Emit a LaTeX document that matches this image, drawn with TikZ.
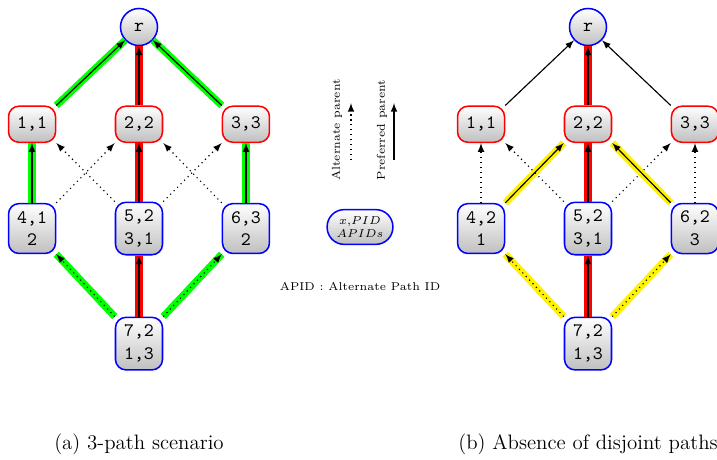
\documentclass[tikz,border=0pt]{standalone}
\usetikzlibrary{arrows, positioning}

\tikzset{
	treenode/.style={draw, thick, rounded corners=5.5pt, top color=white, bottom color=black!25, font=\ttfamily, align=center, inner xsep=4.5pt, inner ysep=4pt},
	rootnode/.style={circle, draw=blue, thick, top color=white, bottom color=black!25, font=\ttfamily, minimum size=19.5pt, inner sep=0pt},
	levelone/.style={treenode, draw=red, minimum height=19pt},
	leveltwo/.style={treenode, draw=blue},
	keynode/.style={draw=blue, thick, rounded corners=9pt, top color=white, bottom color=black!25, font=\keyfont, align=center, inner xsep=5pt, inner ysep=3.5pt},
	keytext/.style={font=\keyfont},
	caption/.style={font=\fontsize{11}{13.6}\selectfont},
	pref/.style={->, semithick},
	alt/.style={->, semithick, dotted},
	greenpath/.style={preaction={draw=green, line width=3.8pt, solid, -}},
	redpath/.style={preaction={draw=red, line width=3.8pt, solid, -}},
	yellowpath/.style={preaction={draw=yellow, line width=3.8pt, solid, -}}
}
\newcommand{\keyfont}{\fontsize{6}{7.2}\selectfont}

\begin{document}
\begin{tikzpicture}[x=0.01851cm, y=-0.01851cm, >=latex, on grid]
	\useasboundingbox (0,0) rectangle (717,459);

	% (a) 3-path scenario
	\node [rootnode]								(ra) at (139,27)			{r};
	\node [levelone]	(a22)	[below=1.80cm of ra]	{2,2};
	\node [levelone]	(a11)	[left=1.98cm of a22]	{1,1};
	\node [levelone]	(a33)	[right=1.98cm of a22]	{3,3};
	\node [leveltwo]	(a52)	[below=1.93cm of a22]	{5,2\\3,1};
	\node [leveltwo]	(a41)	[left=1.98cm of a52]	{4,1\\2};
	\node [leveltwo]	(a63)	[right=1.98cm of a52]	{6,3\\2};
	\node [leveltwo]	(a72)	[below=2.13cm of a52]	{7,2\\1,3};

	\draw[pref, greenpath] (a11.north east) -- (ra);
	\draw[pref, redpath] (a22) -- (ra);
	\draw[pref, greenpath] (a33.north west) -- (ra);
	\draw[pref, greenpath] (a41) -- (a11);
	\draw[pref, redpath] (a52) -- (a22);
	\draw[pref, greenpath] (a63) -- (a33);
	\draw[alt] (a41.north east) -- (a22.south west);
	\draw[alt] (a52.north west) -- (a11.south east);
	\draw[alt] (a52.north east) -- (a33.south west);
	\draw[alt] (a63.north west) -- (a22.south east);
	\draw[alt, greenpath] (a72.north west) -- (a41.south east);
	\draw[pref, redpath] (a72) -- (a52);
	\draw[alt, greenpath] (a72.north east) -- (a63.south west);

	\node [caption] (capa) at (139,444) {(a) 3-path scenario};

	% legend
	\node [keytext, rotate=90] (alttext) at (337,130) {Alternate parent};
	\node [keytext, rotate=90] (preftext) at (382,130) {Preferred parent};
	\coordinate (altlow) at (351,160);
	\coordinate (althigh) at (351,103);
	\coordinate (preflow) at (394,160);
	\coordinate (prefhigh) at (394,103);
	\draw[alt] (altlow) -- (althigh);
	\draw[pref] (preflow) -- (prefhigh);
	\node [keynode] (key) at (360,227) {$x$,$PID$\\$APIDs$};
	\node [keytext] (apid) at (360,286) {APID : Alternate Path ID};

	% (b) absence of disjoint paths
	\node [rootnode]								(rb) at (588,27)			{r};
	\node [levelone]	(b22)	[below=1.80cm of rb]	{2,2};
	\node [levelone]	(b11)	[left=1.98cm of b22]	{1,1};
	\node [levelone]	(b33)	[right=1.98cm of b22]	{3,3};
	\node [leveltwo]	(b52)	[below=1.93cm of b22]	{5,2\\3,1};
	\node [leveltwo]	(b42)	[left=1.98cm of b52]	{4,2\\1};
	\node [leveltwo]	(b62)	[right=1.98cm of b52]	{6,2\\3};
	\node [leveltwo]	(b72)	[below=2.13cm of b52]	{7,2\\1,3};

	\draw[pref] (b11.north east) -- (rb);
	\draw[pref, redpath] (b22) -- (rb);
	\draw[pref] (b33.north west) -- (rb);
	\draw[alt] (b42) -- (b11);
	\draw[pref, yellowpath] (b42.north east) -- (b22.south west);
	\draw[pref, redpath] (b52) -- (b22);
	\draw[alt] (b52.north west) -- (b11.south east);
	\draw[alt] (b52.north east) -- (b33.south west);
	\draw[pref, yellowpath] (b62.north west) -- (b22.south east);
	\draw[alt] (b62) -- (b33);
	\draw[alt, yellowpath] (b72.north west) -- (b42.south east);
	\draw[pref, redpath] (b72) -- (b52);
	\draw[alt, yellowpath] (b72.north east) -- (b62.south west);

	\node [caption] (capb) at (588,444) {(b) Absence of disjoint paths};
\end{tikzpicture}
\end{document}
